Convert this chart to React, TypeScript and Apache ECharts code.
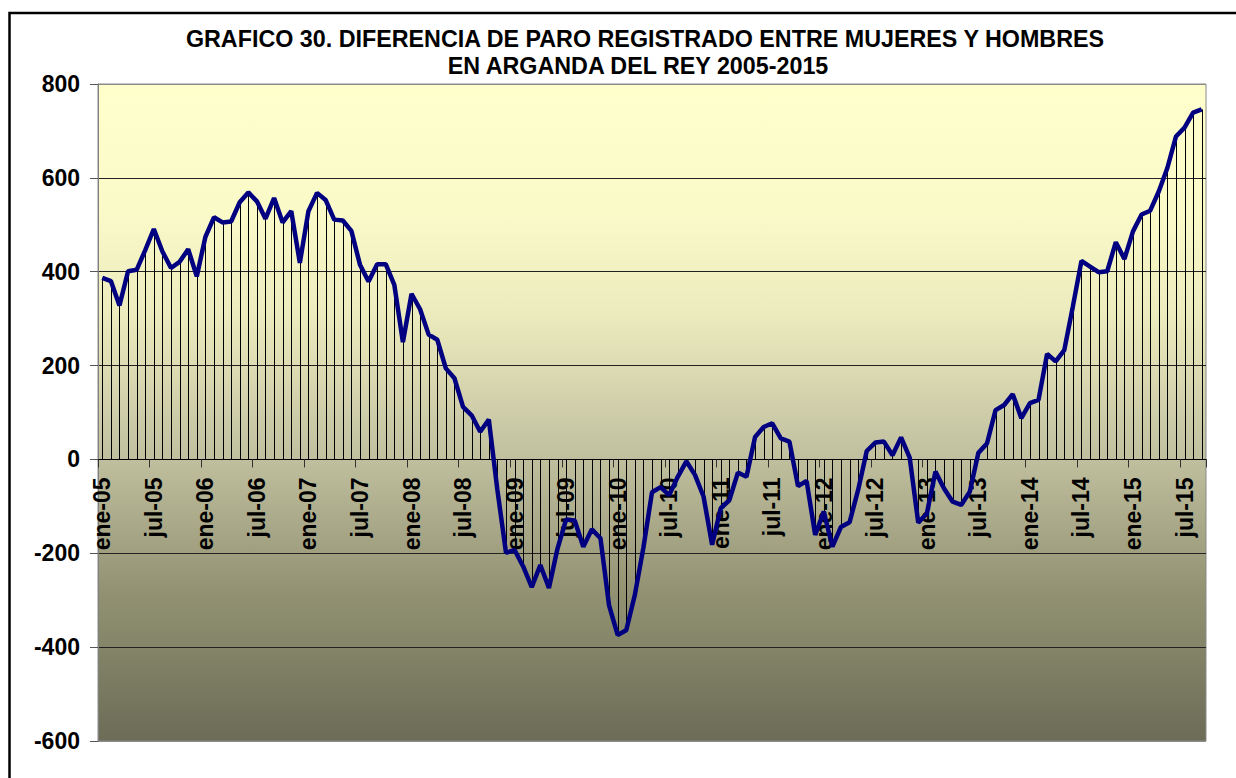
import React, { useEffect, useRef } from "react";
import * as echarts from "echarts";

const MONTHS = ["ene", "feb", "mar", "abr", "may", "jun", "jul", "ago", "sep", "oct", "nov", "dic"];
const YEARS = ["05", "06", "07", "08", "09", "10", "11", "12", "13", "14", "15"];
const N_POINTS = 129; // ene-05 .. sep-15
const categories: string[] = YEARS.flatMap((y) => MONTHS.map((m) => `${m}-${y}`)).slice(0, N_POINTS);

// Diferencia de paro registrado (mujeres - hombres), monthly
const values2005_2008: number[] = [
  387, 380, 328, 401, 404, 446, 491, 443, 408, 421, 448, 390,
  474, 516, 505, 507, 548, 569, 550, 513, 557, 505, 529, 419,
  529, 568, 553, 511, 509, 487, 415, 379, 416, 416, 372, 250,
  353, 320, 266, 255, 194, 173, 112, 94, 59, 85, -65, -199,
];
const values2009_2011: number[] = [
  -193, -228, -272, -225, -274, -190, -128, -130, -186, -149, -168, -311,
  -374, -364, -289, -188, -70, -59, -76, -37, -4, -33, -79, -182,
  -104, -87, -28, -37, 48, 69, 77, 45, 38, -57, -46, -161,
];
const values2012_2015: number[] = [
  -111, -186, -144, -134, -65, 18, 36, 38, 9, 47, 4, -135,
  -115, -26, -62, -90, -97, -69, 14, 34, 105, 116, 139, 88,
  120, 127, 225, 209, 233, 326, 423, 411, 399, 401, 463, 427,
  486, 522, 530, 571, 621, 688, 707, 739, 746,
];
const values: number[] = [...values2005_2008, ...values2009_2011, ...values2012_2015];

const Y_MIN = -600;
const Y_MAX = 800;
const Y_STEP = 200;

const TITLE_LINE_1 = "GRAFICO 30. DIFERENCIA DE PARO REGISTRADO ENTRE MUJERES Y HOMBRES";
const TITLE_LINE_2 = "EN ARGANDA DEL REY 2005-2015";

const FONT = "Arial, 'Liberation Sans', Helvetica, sans-serif";

const GRID_TOP = 84;
const GRID_HEIGHT = 657;
// offset that moves the bottom x axis up to the value 0
const ZERO_OFFSET = -(GRID_HEIGHT * (0 - Y_MIN)) / (Y_MAX - Y_MIN);

export default function App() {
  const ref = useRef<HTMLDivElement>(null);

  useEffect(() => {
    if (!ref.current) return;
    const chart = echarts.init(ref.current, undefined, { renderer: "svg" });
    chart.setOption({
      animation: false,
      backgroundColor: "#ffffff",
      textStyle: { fontFamily: FONT },
      grid: {
        left: 98,
        top: GRID_TOP,
        width: 1108,
        height: GRID_HEIGHT,
        containLabel: false,
        outerBoundsMode: "none",
        show: true,
        borderColor: "#8a8a8a",
        borderWidth: 1,
        backgroundColor: {
          type: "linear",
          x: 0,
          y: 0,
          x2: 0,
          y2: 1,
          colorStops: [
            { offset: 0, color: "#FFFFCC" },
            { offset: 0.2, color: "#FAF9C8" },
            { offset: 0.35, color: "#ECEBBE" },
            { offset: 0.55, color: "#C4C3A2" },
            { offset: 0.78, color: "#919172" },
            { offset: 1, color: "#6C6C57" },
          ],
        },
      },
      graphic: [
        {
          type: "rect",
          silent: true,
          z: 100,
          shape: { x: 9.5, y: 13, width: 1300, height: 900 },
          style: { fill: "none", stroke: "#000", lineWidth: 2.5 },
        },
        {
          type: "text",
          silent: true,
          x: 645,
          y: 39,
          style: {
            text: TITLE_LINE_1,
            fill: "#000",
            font: `bold 23.3px ${FONT}`,
            textAlign: "center",
            textVerticalAlign: "middle",
            align: "center",
            verticalAlign: "middle",
          },
        },
        {
          type: "text",
          silent: true,
          x: 638,
          y: 66,
          style: {
            text: TITLE_LINE_2,
            fill: "#000",
            font: `bold 23.3px ${FONT}`,
            textAlign: "center",
            textVerticalAlign: "middle",
            align: "center",
            verticalAlign: "middle",
          },
        },
      ],
      xAxis: {
        type: "category",
        data: categories,
        boundaryGap: true,
        position: "bottom",
        offset: ZERO_OFFSET,
        axisLine: { show: true, onZero: false, lineStyle: { color: "#000", width: 1 } },
        axisTick: { show: true, interval: 5, length: 8, lineStyle: { color: "#333" } },
        axisLabel: {
          interval: 5,
          rotate: 90,
          margin: 18,
          color: "#000",
          fontSize: 23,
          fontWeight: "bold",
          fontFamily: FONT,
        },
        splitLine: { show: false },
      },
      yAxis: {
        type: "value",
        min: Y_MIN,
        max: Y_MAX,
        interval: Y_STEP,
        axisLine: { show: true, lineStyle: { color: "#808080", width: 1 } },
        axisTick: { show: true, length: 8, lineStyle: { color: "#555" } },
        axisLabel: {
          margin: 18,
          color: "#000",
          fontSize: 23,
          fontWeight: "bold",
          fontFamily: FONT,
        },
        splitLine: {
          show: true,
          lineStyle: {
            color: ["#8a8a8a", "#222", "#222", "#222", "#222", "#222", "#222", "#8a8a8a"],
            width: 1,
          },
        },
      },
      series: [
        {
          type: "custom",
          silent: true,
          data: values.map((v, i) => [i, v]),
          encode: { x: 0, y: 1 },
          renderItem: (params: any, api: any) => {
            const i = api.value(0);
            const v = api.value(1);
            const top = api.coord([i, v]);
            const base = api.coord([i, 0]);
            const x = Math.round(top[0]) + 0.5;
            return {
              type: "line",
              shape: { x1: x, y1: base[1], x2: x, y2: top[1] },
              style: { stroke: "#000", lineWidth: 1 },
            };
          },
        },
        {
          type: "line",
          data: values,
          symbol: "none",
          z: 5,
          lineStyle: { color: "#000080", width: 4.5 },
          silent: true,
        },
      ],
    });
    return () => chart.dispose();
  }, []);

  return (
    <div
      ref={ref}
      style={{ position: "absolute", left: 0, top: 0, width: 1236, height: 778 }}
    />
  );
}
